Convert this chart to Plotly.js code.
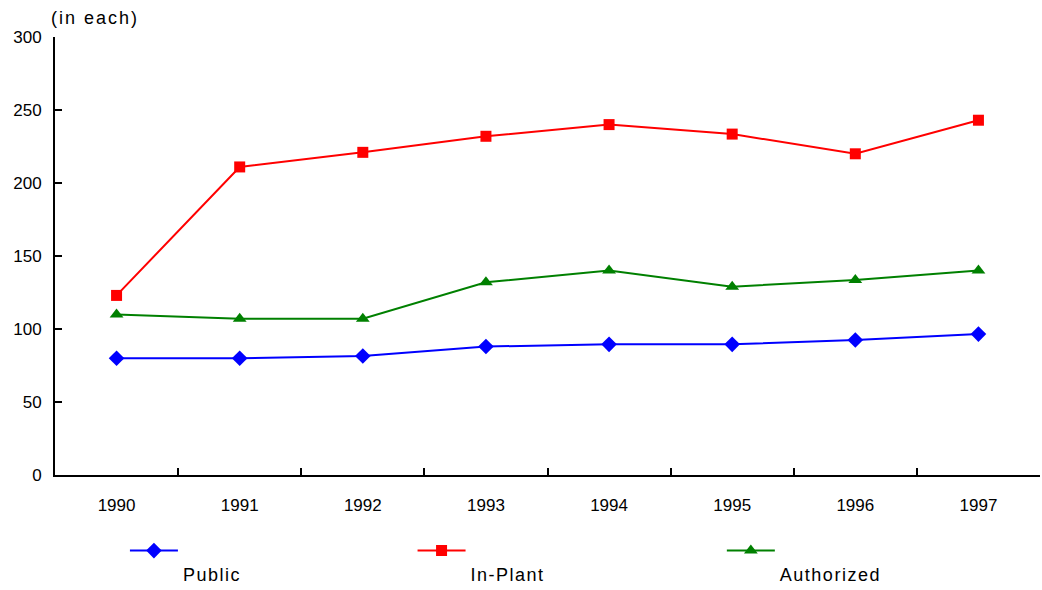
<!DOCTYPE html>
<html>
<head>
<meta charset="utf-8">
<script src="https://cdn.plot.ly/plotly-3.0.1.min.js"></script>
<style>
html, body { margin: 0; padding: 0; background: #fff; }
#chart { width: 1042px; height: 590px; }
.infolayer text { letter-spacing: 1.5px; }
.infolayer .annotation text { letter-spacing: 2px; }
</style>
</head>
<body>
<div id="chart"></div>
<script>
const years = ['1990', '1991', '1992', '1993', '1994', '1995', '1996', '1997'];
const publicVals = [80, 80, 81.5, 88, 89.5, 89.5, 92.5, 96.5];
const inPlantVals = [123, 211, 221, 232, 240, 233.5, 220, 243];
const authorizedVals = [110, 107, 107, 132, 140, 129, 133.5, 140];
const yTicks = [0, 50, 100, 150, 200, 250, 300];
const unitLabel = '(in each)';
const seriesNames = ['Public', 'In-Plant', 'Authorized'];

const font = { family: '"Liberation Sans", Arial, sans-serif', size: 17, color: '#000' };
const font18 = { family: '"Liberation Sans", Arial, sans-serif', size: 18, color: '#000' };

function trace(vals, name, color, symbol, size, legendId) {
  return {
    x: years, y: vals, type: 'scatter', mode: 'lines+markers',
    name: '<br><br>' + name + '&nbsp;&nbsp;&nbsp;&nbsp;&nbsp;',
    line: { color: color, width: 2 },
    marker: { color: color, symbol: symbol, size: size },
    legend: legendId,
    hoverinfo: 'x+y'
  };
}

const data = [
  trace(publicVals, seriesNames[0], '#0000FF', 'diamond', 12, 'legend'),
  trace(inPlantVals, seriesNames[1], '#FF0000', 'square', 11, 'legend2'),
  trace(authorizedVals, seriesNames[2], '#008000', 'triangle-up', 12, 'legend3')
];

function leg(x) {
  return {
    x: x, y: -0.1735, xanchor: 'left', yanchor: 'middle',
    orientation: 'h', bgcolor: 'rgba(0,0,0,0)', borderwidth: 0,
    font: font18, itemwidth: 48, itemclick: false, itemdoubleclick: false
  };
}

const layout = {
  width: 1042, height: 590,
  margin: { l: 55, r: 2, t: 37, b: 115, autoexpand: false },
  paper_bgcolor: '#fff', plot_bgcolor: '#fff',
  font: font,
  showlegend: true,
  xaxis: {
    type: 'category', range: [-0.5, 7.5],
    showline: true, linecolor: '#000', linewidth: 2,
    ticks: 'inside', ticklen: 7, tickwidth: 2, tickcolor: '#000',
    tickson: 'boundaries',
    showgrid: false, zeroline: false,
    tickfont: font, ticklabelstandoff: 14
  },
  yaxis: {
    range: [0, 300], tickvals: yTicks,
    showline: true, linecolor: '#000', linewidth: 2,
    ticks: 'inside', ticklen: 7, tickwidth: 2, tickcolor: '#000',
    showgrid: false, zeroline: false,
    tickfont: font, ticklabelstandoff: 8
  },
  legend: leg(0.071),
  legend2: leg(0.363),
  legend3: leg(0.677),
  annotations: [
    { text: unitLabel, xref: 'paper', yref: 'paper', x: 0.003, y: 1.043,
      xanchor: 'left', yanchor: 'middle', showarrow: false, font: font18 }
  ]
};

Plotly.newPlot('chart', data, layout, { staticPlot: true });
</script>
</body>
</html>
